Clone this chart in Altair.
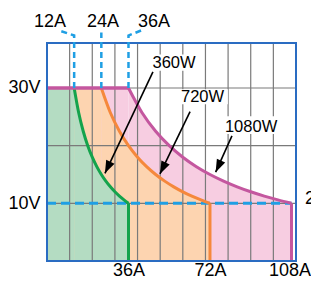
import altair as alt
import pandas as pd

FONT = "Liberation Sans"

# ---- data ----
grid_I = [10, 20, 30, 40, 50, 60, 70, 80, 90, 100]
grid_V = [10, 20, 30]
x_ticks = [36, 72, 108]
y_ticks = [10, 30]

series = ["360W", "720W", "1080W"]
flat_end_I = [12, 24, 36]          # end of constant-voltage (30 V) segment
max_I = [36, 72, 108]              # current limit of each model
V_top = 30
V_low = 10

I_360 = [12, 14, 16, 18, 20, 22, 24, 26, 28, 30, 32, 34, 36]
V_360 = [30, 25.71, 22.5, 20, 18, 16.36, 15, 13.85, 12.86, 12, 11.25, 10.59, 10]
I_720 = [24, 28, 32, 36, 40, 44, 48, 52, 56, 60, 64, 68, 72]
V_720 = [30, 25.71, 22.5, 20, 18, 16.36, 15, 13.85, 12.86, 12, 11.25, 10.59, 10]
I_1080 = [36, 42, 48, 54, 60, 66, 72, 78, 84, 90, 96, 102, 108]
V_1080 = [30, 25.71, 22.5, 20, 18, 16.36, 15, 13.85, 12.86, 12, 11.25, 10.59, 10]

top_labels = ["12A", "24A", "36A"]
top_label_I = [1.3, 24.7, 47.3]
top_label_V = [40.6, 40.6, 40.6]
# dashed leaders from top labels down to the 30 V line
lead_grp = ["a", "a", "a", "b", "b", "c", "c", "c"]
lead_seq = [0, 1, 2, 0, 1, 0, 1, 2]
lead_I = [12, 12, 5.0, 24, 24, 36, 36, 41.8]
lead_V = [30, 39.1, 40.0, 30, 39.6, 30, 39.1, 40.0]

ann_text = ["360W", "720W", "1080W"]
ann_I = [46.6, 59.2, 78.6]
ann_V = [33.5, 27.6, 22.4]
box_I = [45.5, 58.3, 77.8]
box_I2 = [65.4, 79.9, 102.5]
box_V = [33.0, 27.2, 22.0]
box_V2 = [35.8, 29.8, 25.1]
arrow_from_I = [46.8, 63.2, 81.7]
arrow_from_V = [32.8, 25.9, 21.7]
arrow_to_I = [25.6, 49.9, 74.5]
arrow_to_V = [15.2, 15.1, 15.4]
arrow_angle = [25, 26, 25]

fill_colors = ["#b4dcc2", "#fdd4b0", "#f7cde1"]
line_colors = ["#14a34c", "#f5883c", "#c4579f"]
BLUE = "#1f9fe4"
FRAME = "#2a6cc2"

# ---- scales / axes ----
xs = alt.Scale(domain=[0, 110], nice=False, zero=False)
ys = alt.Scale(domain=[0, 37.8], nice=False, zero=False)
xax = alt.Axis(values=x_ticks, labelExpr="datum.value + 'A'", grid=False, ticks=False,
               tickSize=0, domain=False, title=None, labelFontSize=18, labelFont=FONT,
               labelColor="black", labelPadding=0, labelFlush=False, labelOverlap=False,
               labelOffset={"condition": {"test": "datum.value == 108", "value": -2},
                            "value": 0})
yax = alt.Axis(values=y_ticks, labelExpr="datum.value + 'V'", grid=False, ticks=False,
               tickSize=0, domain=False, title=None, labelFontSize=18, labelFont=FONT,
               labelColor="black", labelPadding=7, labelFlush=False, labelOverlap=False)


def X(f="I"):
    return alt.X(f"{f}:Q", scale=xs, axis=xax)


def Y(f="V"):
    return alt.Y(f"{f}:Q", scale=ys, axis=yax)


# ---- tables ----
curve_df = {s: pd.DataFrame({"I": i, "V": v, "V2": 0, "s": s})
            for s, i, v in zip(series, [I_360, I_720, I_1080], [V_360, V_720, V_1080])}
gridx_df = pd.DataFrame({"I": grid_I})
gridy_df = pd.DataFrame({"V": grid_V})
low_df = pd.DataFrame({"I": [0], "I2": [max_I[-1]], "V": [V_low]})
top_df = pd.DataFrame({"I": [0], "I2": [flat_end_I[-1]], "V": [V_top]})
lead_df = pd.DataFrame({"g": lead_grp, "o": lead_seq, "I": lead_I, "V": lead_V})
toplab_df = pd.DataFrame({"t": top_labels, "I": top_label_I, "V": top_label_V})
ann_df = pd.DataFrame({"t": ann_text, "I": ann_I, "V": ann_V})
box_df = pd.DataFrame({"I": box_I, "I2": box_I2, "V": box_V, "V2": box_V2})
arr_rows = []
for k in range(3):
    arr_rows.append({"g": k, "o": 0, "I": arrow_from_I[k], "V": arrow_from_V[k]})
    arr_rows.append({"g": k, "o": 1, "I": arrow_to_I[k], "V": arrow_to_V[k]})
arr_df = pd.DataFrame(arr_rows)
head_df = pd.DataFrame({"I": arrow_to_I, "V": arrow_to_V, "a": arrow_angle})
right_df = pd.DataFrame({"I": [110], "V": [V_low], "t": ["26V"]})
one_df = pd.DataFrame({"z": [0]})

layers = []
# fills: pink, then orange, then green on top
for k in [2, 1, 0]:
    s = series[k]
    flat = pd.DataFrame({"I": [0], "I2": [flat_end_I[k]], "V": [0], "V2": [V_top]})
    layers.append(alt.Chart(flat).mark_rect(color=fill_colors[k], strokeWidth=0).encode(
        x=X(), x2=alt.X2("I2:Q"), y=Y(), y2=alt.Y2("V2:Q")))
    layers.append(alt.Chart(curve_df[s]).mark_area(interpolate="monotone", color=fill_colors[k],
                                                   opacity=1).encode(
        x=X(), y=Y(), y2=alt.Y2("V2:Q")))
# grid
layers.append(alt.Chart(gridx_df).mark_rule(color="#7a7a7a", strokeWidth=1.2).encode(x=X()))
layers.append(alt.Chart(gridy_df).mark_rule(color="#7a7a7a", strokeWidth=1.2).encode(y=Y()))
# 10 V dashed line
layers.append(alt.Chart(low_df).mark_rule(color=BLUE, strokeWidth=3, strokeDash=[9, 5]).encode(
    x=X(), x2=alt.X2("I2:Q"), y=Y()))
# curves and current-limit drops
for k, s in enumerate(series):
    layers.append(alt.Chart(curve_df[s]).mark_line(interpolate="monotone", strokeWidth=3,
                                                   color=line_colors[k]).encode(x=X(), y=Y()))
    drop = pd.DataFrame({"I": [max_I[k]], "V": [0], "V2": [V_low]})
    layers.append(alt.Chart(drop).mark_rule(strokeWidth=3, color=line_colors[k]).encode(
        x=X(), y=Y(), y2=alt.Y2("V2:Q")))
layers.append(alt.Chart(top_df).mark_rule(strokeWidth=3.5, color=line_colors[2]).encode(
    x=X(), x2=alt.X2("I2:Q"), y=Y()))
# frame
layers.append(alt.Chart(one_df).mark_rect(fillOpacity=0, stroke=FRAME, strokeWidth=2).encode(
    x=alt.value(0), x2=alt.value("width"), y=alt.value(0), y2=alt.value("height")))
# top dashed leaders + labels
layers.append(alt.Chart(lead_df).mark_line(color=BLUE, strokeWidth=2.5, strokeDash=[6, 4]).encode(
    x=X(), y=Y(), detail="g:N", order="o:Q"))
layers.append(alt.Chart(toplab_df).mark_text(font=FONT, fontSize=18, align="center",
                                             baseline="alphabetic", color="black").encode(
    x=X(), y=Y(), text="t:N"))
# annotation arrows
layers.append(alt.Chart(arr_df).mark_line(color="black", strokeWidth=1.6).encode(
    x=X(), y=Y(), detail="g:N", order="o:Q"))
layers.append(alt.Chart(head_df).mark_point(
    shape="M0,0L-0.36,-1L0.36,-1Z", filled=True, color="black", opacity=1, size=650,
    strokeWidth=0).encode(x=X(), y=Y(), angle=alt.Angle("a:Q", scale=None)))
layers.append(alt.Chart(box_df).mark_rect(color="white").encode(
    x=X(), x2=alt.X2("I2:Q"), y=Y(), y2=alt.Y2("V2:Q")))
layers.append(alt.Chart(ann_df).mark_text(font=FONT, fontSize=16.5, align="left",
                                          baseline="alphabetic", color="black").encode(
    x=X(), y=Y(), text="t:N"))
layers.append(alt.Chart(right_df).mark_text(font=FONT, fontSize=18, align="left", dx=9, dy=1,
                                            baseline="alphabetic", color="black").encode(
    x=X(), y=Y(), text="t:N"))

chart = alt.layer(*layers).properties(
    width=249, height=218,
    autosize=alt.AutoSizeParams(type="none"),
    padding={"left": 39, "top": 35, "right": 15, "bottom": 18},
).configure_view(stroke=None)

chart.save("out.html", embed_options={"renderer": "svg", "actions": False})
